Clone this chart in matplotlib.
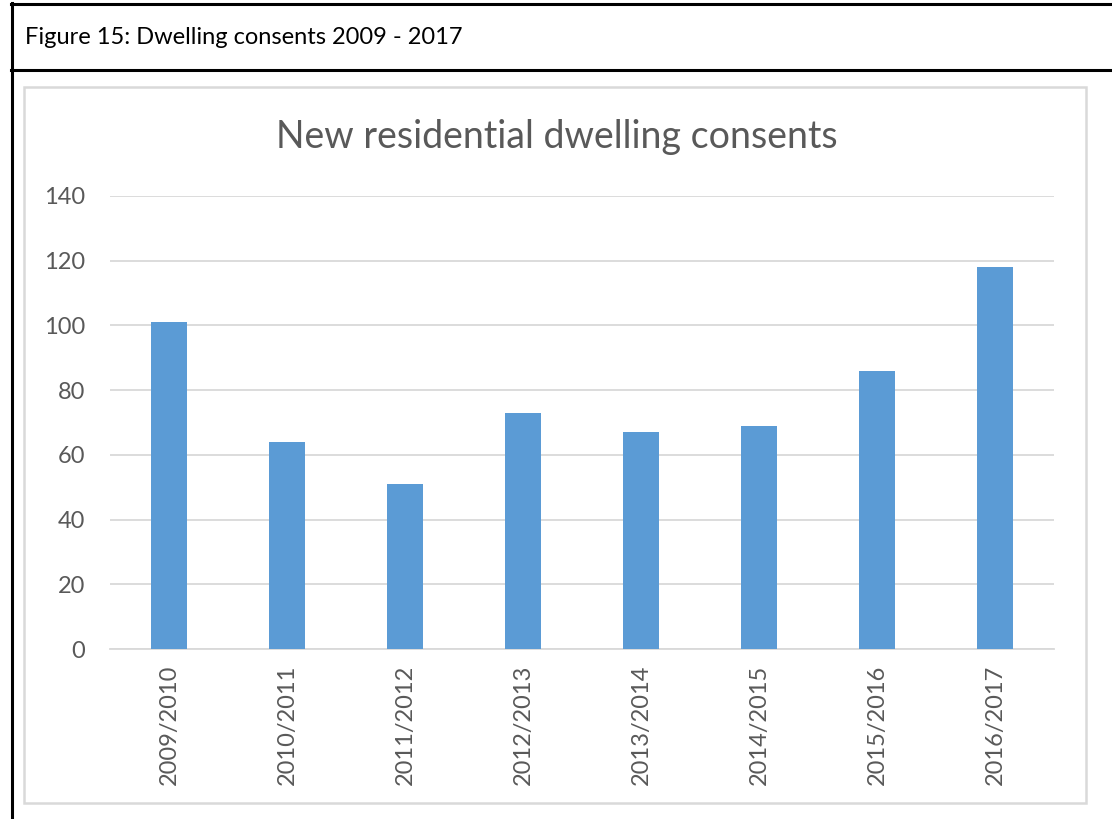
import matplotlib
matplotlib.use("Agg")
import matplotlib.pyplot as plt
from matplotlib.lines import Line2D
from matplotlib.patches import Rectangle

# Consent counts per financial year
years = ["2009/2010", "2010/2011", "2011/2012", "2012/2013",
         "2013/2014", "2014/2015", "2015/2016", "2016/2017"]
consents = [101, 64, 51, 73, 67, 69, 86, 118]
y_ticks = [0, 20, 40, 60, 80, 100, 120, 140]

W, H = 1112, 819
plt.rcParams['font.family'] = ['Lato', 'DejaVu Sans']

fig = plt.figure(figsize=(W / 100, H / 100), dpi=100)
fig.patch.set_facecolor('white')


def fx(px):
    return px / W


def fy(py):
    return 1 - py / H


# table-style frame around the figure
frame = dict(color='black', lw=2.2, transform=fig.transFigure)
fig.add_artist(Line2D([fx(11), 1], [fy(4), fy(4)], **frame))
fig.add_artist(Line2D([fx(11), 1], [fy(70), fy(70)], **frame))
fig.add_artist(Line2D([fx(12), fx(12)], [fy(3), 0], **frame))
fig.text(fx(25), fy(38), "Figure 15: Dwelling consents 2009 - 2017",
         fontsize=17, color='black', va='center', ha='left')

# chart area border
fig.add_artist(Rectangle((fx(24), fy(803)), fx(1086) - fx(24), fy(87) - fy(803),
                         transform=fig.transFigure, fill=False,
                         ec='#D9D9D9', lw=1.8))

fig.text(fx(557), fy(137), "New residential dwelling consents",
         fontsize=27, color='#595959', ha='center', va='center')

ax = fig.add_axes([fx(110), fy(649), fx(1054) - fx(110), fy(196) - fy(649)])
ax.bar(range(len(years)), consents, width=0.31, color='#5B9BD5', zorder=3)

ax.set_xlim(-0.5, len(years) - 0.5)
ax.set_ylim(0, 140)
ax.set_yticks(y_ticks)
ax.set_xticks(range(len(years)))
ax.set_xticklabels(years, rotation=90)
ax.yaxis.grid(True, color='#D9D9D9', lw=1.3, zorder=0)
ax.tick_params(axis='both', length=0, colors='#595959', labelsize=17)
ax.tick_params(axis='y', pad=18)
ax.tick_params(axis='x', pad=11)
for side in ['top', 'right', 'left']:
    ax.spines[side].set_visible(False)
ax.spines['bottom'].set_color('#D9D9D9')
ax.spines['bottom'].set_linewidth(1.3)

fig.savefig("out.png", dpi=100, facecolor='white')
